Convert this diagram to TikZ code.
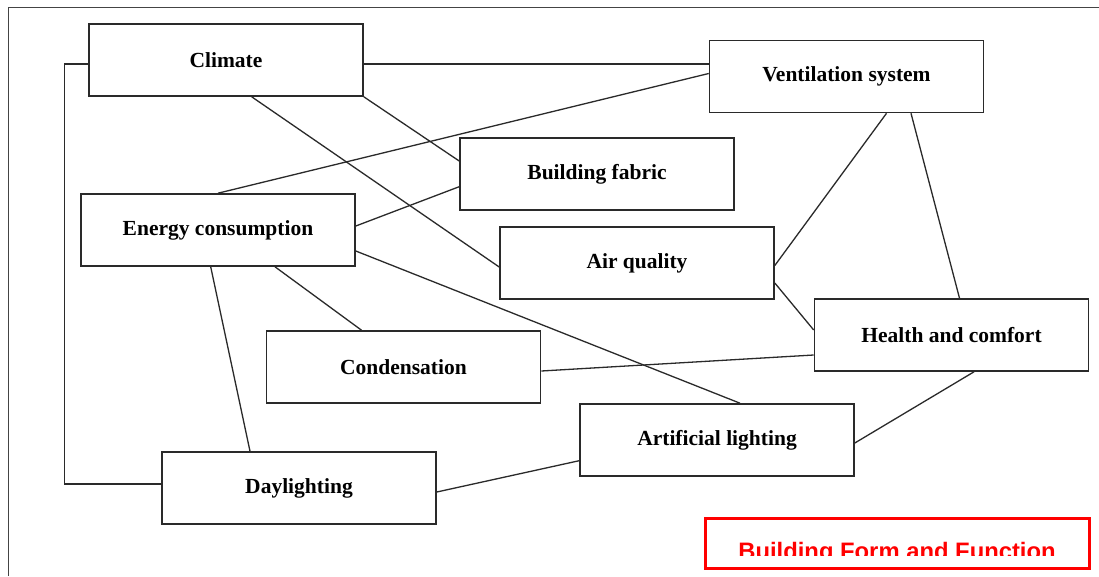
\documentclass[tikz,border=0pt]{standalone}
\usepackage{fontspec}
\setmainfont{Liberation Serif}
\newfontfamily\arialfont{Liberation Sans}
\usetikzlibrary{calc}

\begin{document}
\begin{tikzpicture}[x=1pt,y=-1pt,
  box/.style={draw=lineDark, line width=1.6pt, fill=white, minimum width=274pt,
    minimum height=72pt, inner sep=0pt, font=\fontsize{21.5}{24}\selectfont\bfseries},
  link/.style={draw=lineDark, line width=1.3pt},
  frame/.style={draw=lineGray, line width=1.4pt},
  formbox/.style={draw=formRed, line width=3pt, minimum width=384pt, minimum height=50pt, inner sep=0pt},
  formtext/.style={text=formRed, inner sep=0pt, font=\arialfont\fontsize{23.8}{26}\selectfont\bfseries}]

% Colori
\definecolor{lineDark}{HTML}{2A2A2A}
\definecolor{lineGray}{HTML}{444444}
\definecolor{formRed}{HTML}{FF0000}

% Area della pagina
\useasboundingbox (0,0) rectangle (1099,576);
\fill[white] (0,0) rectangle (1099,576);

% Cornice
\draw[frame] (8.5,576) -- (8.5,7.5) -- (1099,7.5);

% Riquadri
\node[box] (clim) at (226,60) {Climate};
\node[box] (vent) at (846.5,76.5) {Ventilation system};
\node[box] (fabr) at (597,174) {Building fabric};
\node[box] (ener) at (218,230) {Energy consumption};
\node[box] (airq) at (637,263) {Air quality};
\node[box] (heal) at (951.5,335) {Health and comfort};
\node[box] (cond) at (403.5,367) {Condensation};
\node[box] (arti) at (717,440) {Artificial lighting};
\node[box] (dayl) at (299,488) {Daylighting};

% Collegamenti - Climate
\draw[link] ($(clim.west)+(0,4)$) -- ++(-24,0) |- ($(dayl.west)+(0,-4)$);
\draw[link] ($(clim.east)+(0,4)$) -- ($(vent.west)+(0,-12.5)$);
\draw[link] (clim.south east) -- ($(fabr.west)+(0,-13)$);
\draw[link] ($(clim.south)+(25.7,0)$) -- ($(airq.west)+(0,4)$);

% Collegamenti - Energy consumption
\draw[link] ($(vent.west)+(0,-3)$) -- (ener.north);
\draw[link] ($(ener.east)+(0,-4)$) -- ($(fabr.west)+(0,12.7)$);
\draw[link] ($(ener.east)+(0,21)$) -- ($(arti.north)+(23,0)$);
\draw[link] ($(ener.south)+(57,0)$) -- ($(cond.north)+(-42,0)$);
\draw[link] ($(ener.south)+(-7.3,0)$) -- ($(dayl.north)+(-49,0)$);

% Collegamenti - Ventilation system e Health and comfort
\draw[link] ($(vent.south)+(40,0)$) -- ($(airq.east)+(0,2.5)$);
\draw[link] ($(vent.south)+(64.5,0)$) -- ($(heal.north)+(8,0)$);
\draw[link] ($(airq.east)+(0,20)$) -- ($(heal.west)+(0,-5)$);
\draw[link] ($(cond.east)+(0,4)$) -- ($(heal.west)+(0,20)$);
\draw[link] ($(heal.south)+(22.5,0)$) -- ($(arti.east)+(0,3)$);

% Collegamenti - Daylighting
\draw[link] ($(dayl.east)+(0,4)$) -- ($(arti.west)+(0,20.7)$);

% Titolo in rosso (tagliato in basso)
\node[formbox] (form) at (897,543) {};
\begin{scope}
\clip (705,518) rectangle (1089,555);
\node[formtext, anchor=base] (formtitle) at (897,559) {Building Form and Function};
\end{scope}

\end{tikzpicture}
\end{document}
